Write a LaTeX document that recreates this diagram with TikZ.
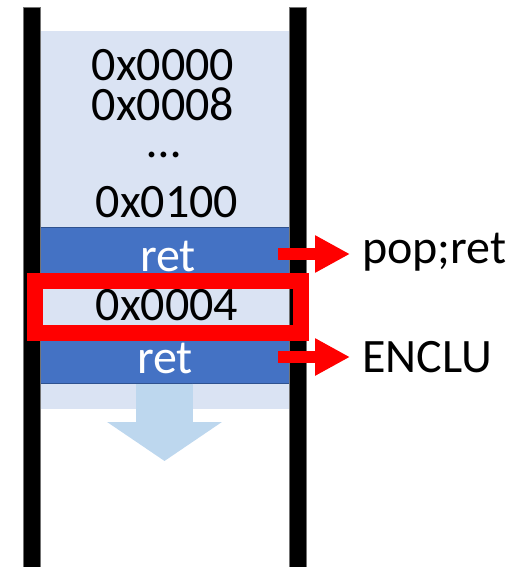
\documentclass[tikz,border=0pt]{standalone}
\usepackage{fontspec}
\setmainfont{Carlito}
\usetikzlibrary{arrows.meta}
\definecolor{lightcell}{HTML}{DAE3F3}
\definecolor{darkcell}{HTML}{4472C4}
\definecolor{celledge}{HTML}{2F528F}
\definecolor{flowblue}{HTML}{BDD7EE}
\definecolor{hired}{HTML}{FF0000}
\begin{document}
\begin{tikzpicture}[x=1pt,y=-1pt,
  bigtext/.style={font=\fontsize{48}{48}\selectfont, inner sep=0pt, anchor=base, text height=30pt, text depth=0pt},
  labtext/.style={font=\fontsize{48}{48}\selectfont, inner sep=0pt, anchor=base west},
  lightbox/.style={fill=lightcell, inner sep=0pt, minimum width=249pt},
  retbox/.style={fill=darkcell, draw=celledge, line width=1pt, inner sep=0pt, minimum width=249pt},
  wall/.style={fill=black, draw=black!55, line width=0.6pt, inner sep=0pt, minimum width=17pt, minimum height=560pt, anchor=north west},
  redarrow/.style={hired, line width=12pt, -{Triangle[length=35pt,width=35pt]}},
  flowarrow/.style={flowblue, line width=57pt, -{Triangle[length=39pt,width=113pt]}},
  hlbox/.style={draw=hired, line width=16pt, inner sep=0pt}
]
\useasboundingbox (0,0) rectangle (512,567);
% stack regions
\node[lightbox, minimum height=196pt, anchor=north west] (top) at (40,31) {};
\node[lightbox, minimum height=26pt, anchor=north west] (bottom) at (40,383) {};
\node[retbox, minimum height=53pt] (ret1) at (164.5,253.5) {};
\node[lightbox, minimum height=52pt] (mid) at (164.5,306) {};
\node[retbox, minimum height=51pt] (ret2) at (164.5,357.5) {};
% walls
\node[wall] (lwall) at (23,7) {};
\node[wall] (rwall) at (289,7) {};
% texts
\node[bigtext] (a0) at (163,81) {0x0000};
\node[bigtext] (a8) at (163,121) {0x0008};
\node[bigtext] (dots) at (164,157) {…};
\node[bigtext] (a100) at (167,217) {0x0100};
\node[bigtext, text=white] (r1) at (168,271) {ret};
\node[bigtext] (a4) at (167,320) {0x0004};
\node[bigtext, text=white] (r2) at (165,373) {ret};
% labels
\node[labtext] (lab1) at (362,263) {pop;ret};
\node[labtext] (lab2) at (362,372) {ENCLU};
% highlight
\node[hlbox, minimum width=265.5pt, minimum height=52pt] (hl) at (167.75,306.5) {};
% arrows
\coordinate (s1) at (278,254);
\coordinate (e1) at (350,254);
\coordinate (s2) at (278,357);
\coordinate (e2) at (350,357);
\draw[redarrow] (s1) -- (e1);
\draw[redarrow] (s2) -- (e2);
\coordinate (down) at (164.5,461);
\draw[flowarrow] (ret2.south) -- (down);
\end{tikzpicture}
\end{document}
